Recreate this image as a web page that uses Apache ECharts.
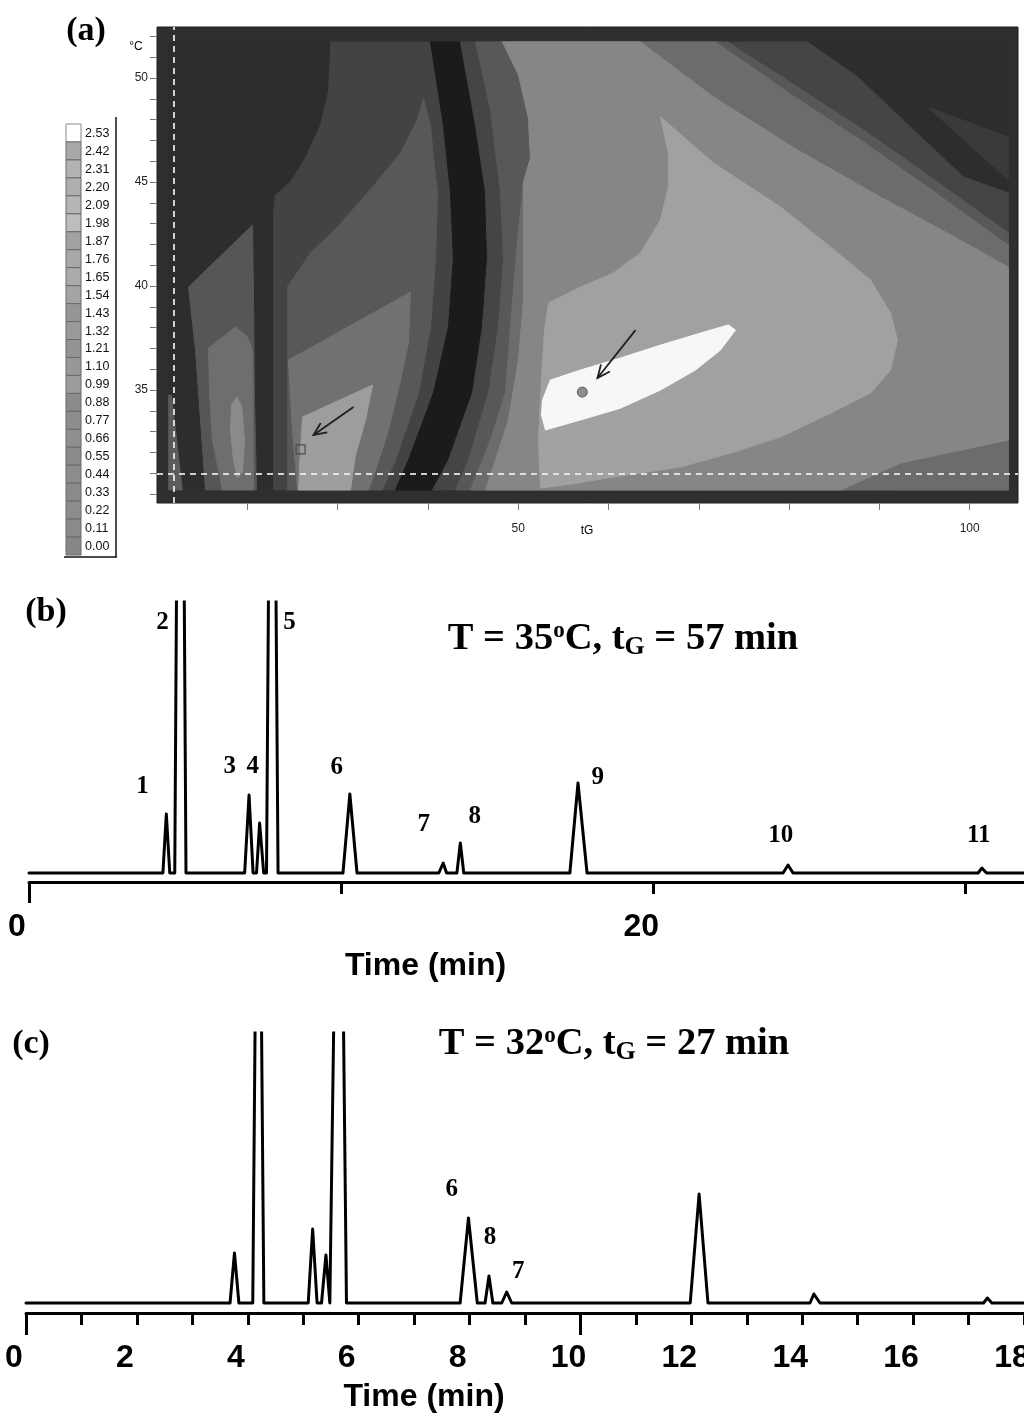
<!DOCTYPE html>
<html lang="en">
<head>
<meta charset="UTF-8">
<title>Resolution map and chromatograms</title>
<script src="https://cdn.jsdelivr.net/npm/echarts@6/dist/echarts.min.js"></script>
<style>
  html, body { margin: 0; padding: 0; background: #fff; }
  #main { width: 1024px; height: 1414px; }
</style>
</head>
<body>
<div id="main"></div>
<script>
// ---- (a) resolution map ----
// colour bar levels (top to bottom)
var levelLabels = ['2.53', '2.42', '2.31', '2.20', '2.09', '1.98', '1.87', '1.76', '1.65', '1.54', '1.43', '1.32',
    '1.21', '1.10', '0.99', '0.88', '0.77', '0.66', '0.55', '0.44', '0.33', '0.22', '0.11', '0.00'];
var tgTicks = [20, 30, 40, 50, 60, 70, 80, 90, 100];
var tgLabels = [50, 100];
var tempTicks = [30, 31, 32, 33, 34, 35, 36, 37, 38, 39, 40, 41, 42, 43, 44, 45, 46, 47, 48, 49, 50, 51, 52];
var tempLabels = [35, 40, 45, 50];

// contour bands as outlines [tG, T], painted in this order
var bandOutlines = [
    // whole plot (lowest level)
    [[11.3, 30.2], [104.3, 30.2], [104.3, 51.7], [11.3, 51.7]],
    // left sliver
    [[11.3, 34.76], [11.6, 34.76], [12.8, 30.2], [11.3, 30.2]],
    // left fork
    [[20.58, 42.93], [13.49, 39.95], [14.27, 36.92], [14.82, 33.56], [15.37, 30.2], [21.02, 30.2], [20.80, 34.52], [20.69, 39.33]],
    [[15.70, 37.02], [18.69, 38.03], [20.02, 37.55], [20.58, 36.92], [20.69, 30.2], [17.25, 30.2], [16.14, 32.60], [15.81, 35.00]],
    [[18.25, 34.28], [18.80, 34.66], [19.36, 34.28], [19.69, 32.60], [19.47, 31.06], [18.91, 30.77], [18.47, 31.63], [18.14, 33.08]],
    // band left of the dark valley
    [[29.21, 51.73], [40.29, 51.73], [41.72, 47.74], [42.50, 44.52], [42.83, 41.35], [42.28, 38.03], [40.62, 34.86], [37.85, 31.63],
        [36.41, 30.2], [22.90, 30.2], [22.90, 43.56], [23.12, 44.38], [24.78, 45.00], [26.44, 46.15], [28.11, 47.74], [28.99, 49.33], [29.21, 50.96]],
    // right fork
    [[39.51, 49.04], [40.29, 47.74], [40.62, 46.15], [41.06, 44.52], [40.84, 41.25], [40.29, 38.03], [38.96, 34.86], [36.41, 31.63],
        [34.97, 30.2], [24.45, 30.2], [24.45, 39.95], [26.99, 41.59], [29.99, 42.84], [33.31, 44.47], [36.97, 46.39], [38.85, 47.98]],
    [[24.56, 36.44], [38.07, 39.71], [37.85, 37.26], [36.97, 35.48], [35.64, 33.08], [34.20, 31.15], [33.43, 30.2], [25.56, 30.2], [25.00, 33.08]],
    [[26.11, 33.70], [33.87, 35.24], [33.09, 33.56], [31.98, 31.88], [31.43, 30.2], [25.67, 30.2], [25.89, 32.12]],
    // dark valley
    [[40.29, 51.73], [41.72, 47.74], [42.50, 44.52], [42.83, 41.35], [42.28, 38.03], [40.62, 34.86], [37.85, 31.63], [36.41, 30.2],
        [40.51, 30.2], [42.28, 31.63], [44.94, 34.86], [46.04, 38.03], [46.60, 41.35], [46.38, 44.52], [45.27, 47.74], [43.61, 51.73]],
    // nested bands right of the valley
    [[43.61, 51.73], [82.04, 51.73], [87.58, 50.05], [93.78, 47.50], [99.31, 45.24], [104.29, 44.47], [104.29, 30.2], [40.51, 30.2],
        [42.28, 31.63], [44.94, 34.86], [46.04, 38.03], [46.60, 41.35], [46.38, 44.52], [45.27, 47.74]],
    [[95.33, 48.61], [104.29, 47.16], [104.29, 45.10]],
    [[45.27, 51.73], [73.18, 51.73], [80.93, 49.57], [88.24, 47.50], [95.66, 45.24], [101.19, 43.51], [104.29, 42.55], [104.29, 30.2],
        [43.05, 30.2], [44.49, 31.63], [46.71, 34.86], [47.82, 38.03], [48.37, 41.35], [48.04, 44.52], [46.93, 48.46]],
    [[48.26, 51.73], [50.14, 50.14], [51.14, 48.08], [51.36, 46.15], [50.58, 45.00], [50.03, 42.69], [49.37, 39.33], [48.59, 34.86],
        [46.93, 32.60], [44.72, 30.2], [104.29, 30.2], [104.29, 41.97], [101.19, 42.93], [95.66, 44.66], [88.24, 46.92], [80.93, 49.0], [71.85, 51.73]],
    [[48.26, 51.73], [63.54, 51.73], [71.63, 49.09], [80.93, 46.54], [90.12, 44.28], [97.54, 42.55], [104.29, 40.91], [104.29, 32.60],
        [92.34, 31.49], [86.47, 30.34], [85.70, 30.2], [46.38, 30.2], [47.48, 31.63], [48.92, 33.56], [50.03, 36.44], [50.58, 39.33],
        [50.58, 41.01], [50.58, 45.00], [51.36, 46.15], [51.14, 48.08], [50.03, 50.14]],
    // crescent
    [[65.76, 48.13], [71.63, 45.91], [79.05, 43.80], [84.59, 41.88], [89.02, 40.29], [91.23, 38.70], [92.00, 37.40], [91.23, 35.96],
        [89.02, 34.86], [84.59, 33.89], [79.05, 32.74], [73.51, 31.97], [67.97, 31.30], [60.55, 30.82], [55.79, 30.48], [52.47, 30.29],
        [52.24, 32.60], [52.58, 35.48], [52.91, 37.88], [53.35, 39.18], [56.90, 39.95], [60.55, 40.63], [63.54, 41.59], [65.76, 43.17],
        [66.64, 44.76], [66.64, 46.39]],
    // optimum region
    [[52.69, 34.52], [53.57, 35.48], [56.90, 35.96], [61.33, 36.54], [65.76, 37.16], [70.19, 37.74], [73.29, 38.13], [74.06, 37.88],
        [72.40, 36.92], [69.63, 35.96], [65.76, 35.00], [61.33, 34.13], [56.90, 33.56], [53.02, 33.08], [52.58, 33.80]]
];
var bandFills = ['#2d2d2d', '#5c5c5c', '#565656', '#6e6e6e', '#8a8a8a', '#434343', '#585858', '#717171', '#9d9d9d', '#1b1b1b',
    '#454545', '#3a3a3a', '#585858', '#6c6c6c', '#868686', '#a1a1a1', '#f7f7f7'];
var swatchFills = ['#ffffff', '#a9a9a9', '#b3b3b3', '#afafaf', '#b6b6b6', '#bdbdbd', '#a2a2a2', '#a8a8a8', '#ababab', '#a4a4a4',
    '#969696', '#9a9a9a', '#939393', '#989898', '#9c9c9c', '#8b8b8b', '#8d8d8d', '#8f8f8f', '#8b8b8b', '#8d8d8d', '#8a8a8a',
    '#8c8c8c', '#8a8a8a', '#878787'];

var optimumPoint = [[57.1, 34.9]];   // T = 35 C, tG = 57 min
var secondPoint = [[25.9, 32.15]];
var arrows = [[31.76, 34.18, 27.33, 32.84], [62.99, 37.88, 58.78, 35.58]];   // from [tG, T] to [tG, T]
var refTG = 11.83;
var refT = 31.0;

// ---- (b) chromatogram, T = 35 C, tG = 57 min ----
// peaks: [start, apex, end, height] (min, signal)
var peaksB = [
    [4.29, 4.40, 4.51, 59],
    [4.67, 4.85, 5.03, 900],
    [6.91, 7.05, 7.18, 78],
    [7.29, 7.39, 7.52, 50],
    [7.61, 7.79, 7.98, 800],
    [10.06, 10.28, 10.51, 79],
    [13.13, 13.27, 13.38, 10],
    [13.71, 13.82, 13.93, 30],
    [17.33, 17.59, 17.88, 90],
    [24.16, 24.32, 24.48, 8],
    [30.41, 30.53, 30.68, 5]
];
var peakNamesB = ['1', '2', '3', '4', '5', '6', '7', '8', '9', '10', '11'];
var peakLabelPosB = [[3.64, 86], [4.28, 250], [6.43, 106], [7.17, 106], [8.35, 250], [9.86, 105], [12.65, 48], [14.28, 56],
    [18.22, 95], [24.09, 37], [30.43, 37]];
var timeTicksB = [10, 20, 30];
var timeLongTicksB = [0];
var timeLabelsB = [0, 20];
var timeMaxB = 31.88;

// ---- (c) chromatogram, T = 32 C, tG = 27 min ----
var peaksC = [
    [3.68, 3.76, 3.84, 50],
    [4.09, 4.19, 4.29, 660],
    [5.09, 5.17, 5.25, 74],
    [5.33, 5.41, 5.48, 48],
    [5.51, 5.65, 5.78, 675],
    [7.83, 7.98, 8.14, 85],
    [8.28, 8.35, 8.42, 27],
    [8.58, 8.67, 8.76, 11],
    [11.98, 12.14, 12.30, 109],
    [14.14, 14.21, 14.32, 9],
    [17.27, 17.34, 17.42, 5]
];
var peakNamesC = ['6', '8', '7'];
var peakLabelPosC = [[7.68, 113], [8.37, 65], [8.88, 31]];
var timeTicksC = [1, 2, 3, 4, 5, 6, 7, 8, 9, 11, 12, 13, 14, 15, 16, 17, 18];
var timeLongTicksC = [0, 10];
var timeLabelsC = [0, 2, 4, 6, 8, 10, 12, 14, 16, 18];
var timeMaxC = 18;

function buildTrace(peaks, tMax) {
    var pts = [[0, 0]];
    peaks.forEach(function (p) {
        pts.push([p[0], 0], [p[1], p[3]], [p[2], 0]);
    });
    pts.push([tMax, 0]);
    return pts;
}

function drawBand(params, api) {
    var pts = bandOutlines[params.dataIndex].map(function (p) { return api.coord(p); });
    var fill = bandFills[params.dataIndex];
    return { type: 'polygon', shape: { points: pts }, style: { fill: fill, stroke: fill, lineWidth: 1 } };
}

function drawArrow(params, api) {
    var a = api.coord([api.value(0), api.value(1)]);
    var b = api.coord([api.value(2), api.value(3)]);
    var ang = Math.atan2(b[1] - a[1], b[0] - a[0]);
    var L = 14, s = 0.42;
    var h1 = [b[0] - L * Math.cos(ang - s), b[1] - L * Math.sin(ang - s)];
    var h2 = [b[0] - L * Math.cos(ang + s), b[1] - L * Math.sin(ang + s)];
    return {
        type: 'group',
        children: [
            { type: 'polyline', shape: { points: [a, b] }, style: { stroke: '#1e1e1e', lineWidth: 1.8, fill: null } },
            { type: 'polyline', shape: { points: [h1, b, h2] }, style: { stroke: '#1e1e1e', lineWidth: 1.8, fill: null } }
        ]
    };
}

var serif = 'Liberation Serif, Times New Roman, serif';
var sans = 'Liberation Sans, Arial, sans-serif';

// colour bar and texts
var graphics = [];
levelLabels.forEach(function (lab, i) {
    var y = 124 + i * 17.96;
    graphics.push({ type: 'rect', shape: { x: 66, y: y, width: 15, height: 17.96 },
        style: { fill: swatchFills[i], stroke: i === 0 ? '#888' : '#6a6a6a', lineWidth: 1 } });
    graphics.push({ type: 'text', x: 85, y: y + 9.5,
        style: { text: lab, fontSize: 12.5, fontFamily: sans, fill: '#111', align: 'left', verticalAlign: 'middle',
            textAlign: 'left', textVerticalAlign: 'middle' } });
});
graphics.push({ type: 'line', shape: { x1: 116, y1: 117, x2: 116, y2: 557 }, style: { stroke: '#111', lineWidth: 1.5 } });
graphics.push({ type: 'line', shape: { x1: 64, y1: 557, x2: 117, y2: 557 }, style: { stroke: '#111', lineWidth: 1.5 } });

function txt(x, y, text, size, family, weight, rich) {
    var st = { text: text, fontSize: size, fontFamily: family, fontWeight: weight, fill: '#000',
        align: 'center', verticalAlign: 'middle', textAlign: 'center', textVerticalAlign: 'middle' };
    if (rich) st.rich = rich;
    return { type: 'text', x: x, y: y, style: st };
}
var titleRich = {
    sup: { fontSize: 23, fontFamily: serif, fontWeight: 'bold', fill: '#000', padding: [0, 0, 16, 0] },
    sub: { fontSize: 26, fontFamily: serif, fontWeight: 'bold', fill: '#000', padding: [16, 0, 0, 0] }
};
graphics.push(txt(86, 31, '(a)', 34, serif, 'bold'));
graphics.push(txt(46, 612, '(b)', 34, serif, 'bold'));
graphics.push(txt(31, 1044, '(c)', 34, serif, 'bold'));
graphics.push(txt(136, 47, '°C', 12, sans, 'normal'));
graphics.push(txt(587, 531, 'tG', 12, sans, 'normal'));
graphics.push(txt(623, 639, 'T = 35{sup|o}C, t{sub|G} = 57 min', 38.5, serif, 'bold', titleRich));
graphics.push(txt(614, 1044, 'T = 32{sup|o}C, t{sub|G} = 27 min', 38.5, serif, 'bold', titleRich));

var tickLabelStyle = { fontSize: 32, fontWeight: 'bold', fontFamily: sans, color: '#000', padding: [0, 24, 0, 0] };
var nameStyle = { fontSize: 32, fontWeight: 'bold', fontFamily: sans, color: '#000', padding: [0, 202, 0, 0] };

function timeAxis(grid, max, ticks, len, labels, withName) {
    var ax = {
        gridIndex: grid, type: 'value', min: 0, max: max, position: 'bottom',
        axisLine: { show: withName, onZero: false, lineStyle: { color: '#000', width: 3 } },
        splitLine: { show: false },
        axisTick: { show: true, customValues: ticks, length: len, lineStyle: { color: '#000', width: 3 } },
        axisLabel: labels ? Object.assign({ customValues: labels, margin: 29, showMinLabel: true, showMaxLabel: true }, tickLabelStyle) : { show: false }
    };
    if (withName) {
        ax.name = 'Time (min)';
        ax.nameLocation = 'middle';
        ax.nameGap = 68;
        ax.nameTextStyle = nameStyle;
    }
    return ax;
}

function labelSeries(xi, yi, pos, names) {
    return {
        type: 'scatter', xAxisIndex: xi, yAxisIndex: yi, silent: true, symbolSize: 1,
        itemStyle: { color: 'rgba(0,0,0,0)', opacity: 1 },
        data: pos.map(function (p, i) { return { value: p, name: names[i] }; }),
        label: { show: true, position: 'inside', formatter: '{b}', fontSize: 25, fontWeight: 'bold', fontFamily: serif,
            color: '#000', opacity: 1 }
    };
}

var chart = echarts.init(document.getElementById('main'));
var option = {
    animation: false,
    backgroundColor: '#fff',
    grid: [
        { left: 157, top: 27, width: 861, height: 476, show: true, backgroundColor: '#2f2f2f', borderColor: '#1e1e1e', borderWidth: 1,
            containLabel: false, outerBoundsMode: 'none' },
        { left: 29, top: 602, width: 995, height: 280, containLabel: false, outerBoundsMode: 'none' },
        { left: 26, top: 1033, width: 998, height: 280, containLabel: false, outerBoundsMode: 'none' }
    ],
    xAxis: [
        {
            gridIndex: 0, type: 'value', min: 10, max: 105.35, position: 'bottom',
            axisLine: { show: false }, splitLine: { show: false },
            axisTick: { show: true, customValues: tgTicks, length: 7, lineStyle: { color: '#777', width: 1 } },
            axisLabel: { customValues: tgLabels, margin: 20, fontSize: 12, fontFamily: sans, color: '#222' }
        },
        timeAxis(1, timeMaxB, timeTicksB, 12, timeLabelsB, true),
        timeAxis(1, timeMaxB, timeLongTicksB, 21, null, false),
        timeAxis(2, timeMaxC, timeTicksC, 12, timeLabelsC, true),
        timeAxis(2, timeMaxC, timeLongTicksC, 22, null, false)
    ],
    yAxis: [
        {
            gridIndex: 0, type: 'value', min: 29.57, max: 52.45, position: 'left',
            axisLine: { show: false }, splitLine: { show: false },
            axisTick: { show: true, customValues: tempTicks, length: 7, lineStyle: { color: '#777', width: 1 } },
            axisLabel: { customValues: tempLabels, margin: 9, fontSize: 12, fontFamily: sans, color: '#222' }
        },
        { gridIndex: 1, type: 'value', min: -9, max: 271, show: false },
        { gridIndex: 2, type: 'value', min: -10, max: 270, show: false }
    ],
    graphic: { elements: graphics },
    series: [
        {
            type: 'custom', xAxisIndex: 0, yAxisIndex: 0, silent: true, clip: true,
            renderItem: drawBand,
            data: bandOutlines.map(function (b, i) { return [b[0][0], b[0][1], i]; })
        },
        {
            type: 'scatter', xAxisIndex: 0, yAxisIndex: 0, silent: true, symbol: 'circle', symbolSize: 10,
            itemStyle: { color: '#8e8e8e', borderColor: '#5a5a5a', borderWidth: 1, opacity: 1 },
            data: optimumPoint
        },
        {
            type: 'scatter', xAxisIndex: 0, yAxisIndex: 0, silent: true, symbol: 'rect', symbolSize: 9,
            itemStyle: { color: 'rgba(0,0,0,0)', borderColor: '#4a4a4a', borderWidth: 1.2, opacity: 1 },
            data: secondPoint
        },
        {
            type: 'custom', xAxisIndex: 0, yAxisIndex: 0, silent: true,
            renderItem: drawArrow,
            encode: { x: [0, 2], y: [1, 3] },
            data: arrows,
            markLine: {
                silent: true, symbol: ['none', 'none'], label: { show: false },
                lineStyle: { color: '#eeeeee', type: [6, 5], width: 2, opacity: 0.85 },
                data: [{ xAxis: refTG }, { yAxis: refT }]
            }
        },
        {
            type: 'line', xAxisIndex: 1, yAxisIndex: 1, silent: true, clip: true, symbol: 'none',
            lineStyle: { color: '#000', width: 3, join: 'round', cap: 'round' },
            data: buildTrace(peaksB, timeMaxB)
        },
        labelSeries(1, 1, peakLabelPosB, peakNamesB),
        {
            type: 'line', xAxisIndex: 3, yAxisIndex: 2, silent: true, clip: true, symbol: 'none',
            lineStyle: { color: '#000', width: 3, join: 'round', cap: 'round' },
            data: buildTrace(peaksC, timeMaxC)
        },
        labelSeries(3, 2, peakLabelPosC, peakNamesC)
    ]
};
chart.setOption(option);
</script>
</body>
</html>
